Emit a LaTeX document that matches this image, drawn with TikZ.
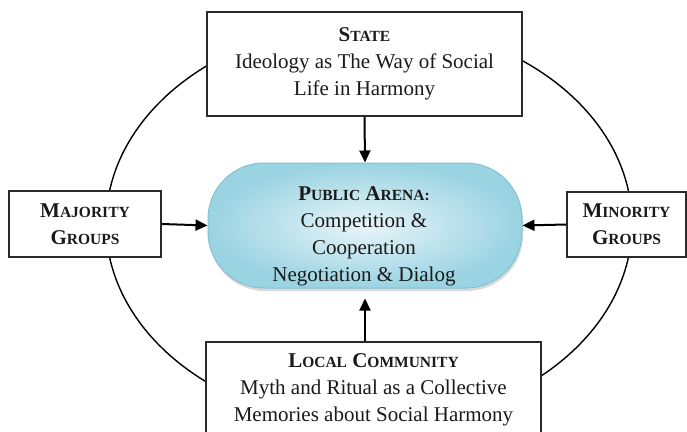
\documentclass[tikz,border=0pt]{standalone}
\usepackage{fontspec}
\setmainfont{Liberation Serif}
\usetikzlibrary{arrows.meta,shadows}

% bold heading set in hand-made small capitals
\newcommand{\hcap}[2]{{\bfseries\fontsize{21}{27}\selectfont #1\fontsize{15.5}{27}\selectfont #2}}

\definecolor{frame}{HTML}{2A2A2A}
\definecolor{inkcol}{HTML}{1A1A1A}
\definecolor{arenain}{HTML}{E8F5F9}
\definecolor{arenaout}{HTML}{9AD3E2}
\definecolor{arenaedge}{HTML}{80C2D4}

\begin{document}
\begin{tikzpicture}[x=1pt,y=-1pt,
  every node/.style={font=\fontsize{21}{27}\selectfont, text=inkcol},
  box/.style={draw=frame, line width=1.6pt, fill=white, align=center, inner sep=0pt},
  arenabox/.style={draw=arenaedge, line width=1pt, rounded corners=56pt,
    shading=radial, inner color=arenain, outer color=arenaout,
    drop shadow={shadow xshift=1pt, shadow yshift=-3pt, opacity=0.3, fill=gray},
    inner sep=0pt},
  link/.style={draw=black, line width=2pt, -{Triangle[length=12pt,width=11pt]}},
  ring/.style={draw=black, line width=1.4pt}]

\useasboundingbox (0,0) rectangle (687,431);
\clip (0,0) rectangle (687,431);

% outer ring linking the four actors
\draw[ring] (369,224) ellipse [x radius=263, y radius=201];

% the four actors
\node[box, minimum width=315pt, minimum height=104pt] (state) at (364.5,64)
  {\hcap{S}{TATE}\\Ideology as The Way of Social\\Life in Harmony};
\node[box, minimum width=152pt, minimum height=66pt] (major) at (85,224)
  {\hcap{M}{AJORITY}\\\hcap{G}{ROUPS}};
\node[box, minimum width=119pt, minimum height=65pt] (minor) at (626.5,224.5)
  {\hcap{M}{INORITY}\\\hcap{G}{ROUPS}};
\node[box, minimum width=335pt, minimum height=96pt] (local) at (373.5,390)
  {\hcap{L}{OCAL} \hcap{C}{OMMUNITY}\\Myth and Ritual as a Collective\\Memories about Social Harmony};

% central arena
\node[arenabox, minimum width=314pt, minimum height=125pt] (arena) at (365,225.5) {};
\node[align=center, inner sep=0pt] (arenatext) at (364,236)
  {\hcap{P}{UBLIC} \hcap{A}{RENA:}\\Competition \&\\Cooperation\\Negotiation \& Dialog};

% influences flowing into the arena
\draw[link] (state.south) -- (arena.north);
\draw[link, shorten >=10pt] (local.north -| arena.south) -- (arena.south);
\draw[link] (major.east) -- (arena.west);
\draw[link] (minor.west) -- (arena.east);
\end{tikzpicture}
\end{document}
